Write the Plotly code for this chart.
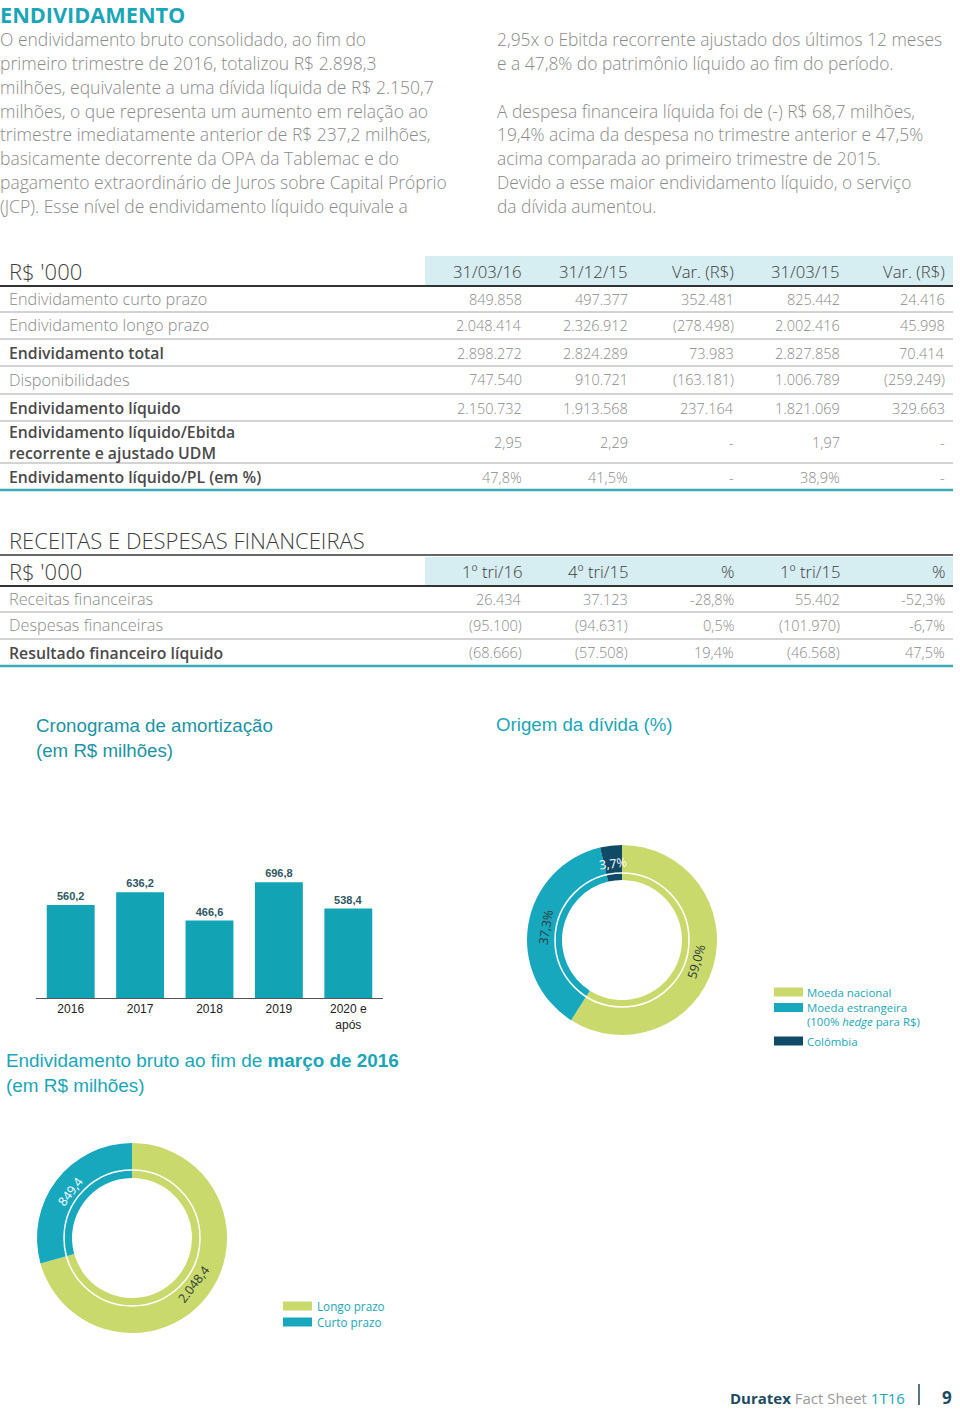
import math
import plotly.graph_objects as go

# ---------------- DATA ----------------
title_main = "ENDIVIDAMENTO"
para_left = [
    "O endividamento bruto consolidado, ao fim do",
    "primeiro trimestre de 2016, totalizou R$ 2.898,3",
    "milhões, equivalente a uma dívida líquida de R$ 2.150,7",
    "milhões, o que representa um aumento em relação ao",
    "trimestre imediatamente anterior de R$ 237,2 milhões,",
    "basicamente decorrente da OPA da Tablemac e do",
    "pagamento extraordinário de Juros sobre Capital Próprio",
    "(JCP). Esse nível de endividamento líquido equivale a",
]
para_right = [
    "2,95x o Ebitda recorrente ajustado dos últimos 12 meses",
    "e a 47,8% do patrimônio líquido ao fim do período.",
    "",
    "A despesa financeira líquida foi de (-) R$ 68,7 milhões,",
    "19,4% acima da despesa no trimestre anterior e 47,5%",
    "acima comparada ao primeiro trimestre de 2015.",
    "Devido a esse maior endividamento líquido, o serviço",
    "da dívida aumentou.",
]

debt_header = ["31/03/16", "31/12/15", "Var. (R$)", "31/03/15", "Var. (R$)"]
debt_rows = [
    "Endividamento curto prazo",
    "Endividamento longo prazo",
    "Endividamento total",
    "Disponibilidades",
    "Endividamento líquido",
    "Endividamento líquido/Ebitda<br>recorrente e ajustado UDM",
    "Endividamento líquido/PL (em %)",
]
debt_bold = [False, False, True, False, True, True, True]
debt_q1_16 = ["849.858", "2.048.414", "2.898.272", "747.540", "2.150.732", "2,95", "47,8%"]
debt_q4_15 = ["497.377", "2.326.912", "2.824.289", "910.721", "1.913.568", "2,29", "41,5%"]
debt_var_q4 = ["352.481", "(278.498)", "73.983", "(163.181)", "237.164", "-", "-"]
debt_q1_15 = ["825.442", "2.002.416", "2.827.858", "1.006.789", "1.821.069", "1,97", "38,9%"]
debt_var_q1 = ["24.416", "45.998", "70.414", "(259.249)", "329.663", "-", "-"]

fin_title = "RECEITAS E DESPESAS FINANCEIRAS"
fin_header = ["1º tri/16", "4º tri/15", "%", "1º tri/15", "%"]
fin_rows = ["Receitas financeiras", "Despesas financeiras", "Resultado financeiro líquido"]
fin_bold = [False, False, True]
fin_q1_16 = ["26.434", "(95.100)", "(68.666)"]
fin_q4_15 = ["37.123", "(94.631)", "(57.508)"]
fin_pct_q4 = ["-28,8%", "0,5%", "19,4%"]
fin_q1_15 = ["55.402", "(101.970)", "(46.568)"]
fin_pct_q1 = ["-52,3%", "-6,7%", "47,5%"]

amort_years = ["2016", "2017", "2018", "2019", "2020 e<br>após"]
amort_values = [560.2, 636.2, 466.6, 696.8, 538.4]

origin_labels = ["Moeda nacional", "Moeda estrangeira", "Colômbia"]
origin_values = [59.0, 37.3, 3.7]

term_labels = ["Longo prazo", "Curto prazo"]
term_values = [2048.4, 849.4]

# ---------------- STYLE ----------------
W, H = 960, 1411
BODY = "Open Sans"
HELV = "Liberation Sans"
TEAL = "#1aa6b7"
TEAL_T = "#1b93a3"
GREEN = "#c9d96b"
PIE_TEAL = "#18a8be"
NAVY = "#0f4a66"
GRAY = "#8a8a8a"
DARK = "#3c3c3c"


def X(p):
    return p / W


def Y(p):
    return 1 - p / H


annotations = []
shapes = []


def text(x, y, s, size, color, anchor="left", family=BODY, weight=None, angle=0):
    f = dict(size=size, color=color, family=family)
    if weight:
        f["weight"] = weight
    annotations.append(dict(x=X(x), y=Y(y), xref="paper", yref="paper", text=s,
                            showarrow=False, xanchor=anchor, yanchor="middle",
                            font=f, textangle=angle, borderpad=0,
                            align=anchor if anchor != "center" else "center"))


def hline(x0, x1, y, color, width):
    shapes.append(dict(type="line", xref="paper", yref="paper", x0=X(x0), x1=X(x1),
                       y0=Y(y), y1=Y(y), line=dict(color=color, width=width)))


def rect(x0, x1, y0, y1, color):
    shapes.append(dict(type="rect", xref="paper", yref="paper", x0=X(x0), x1=X(x1),
                       y0=Y(y1), y1=Y(y0), fillcolor=color, line=dict(width=0), layer="below"))


def br_num(v, dec=1):
    s = f"{v:,.{dec}f}"
    return s.replace(",", "X").replace(".", ",").replace("X", ".")


# ---------------- INTRO TEXT ----------------
text(-1, 14, "<b>" + title_main + "</b>", 21.7, TEAL)
line_y = [39, 63, 87, 111, 134, 158, 182, 206]
for s, yy in zip(para_left, line_y):
    text(-1, yy, s, 17.5, GRAY, weight=300)
for s, yy in zip(para_right, line_y):
    if s:
        text(496, yy, s, 17.4, GRAY, weight=300)

# ---------------- DEBT TABLE ----------------
col_x = [523, 629, 735, 841, 946]
rect(425, 953, 256, 285, "#d6edf2")
text(8, 271, "R$ '000", 22, DARK, weight=300)
for h, cx in zip(debt_header, col_x):
    text(cx, 271, h, 16.7, DARK, anchor="right", weight=300)
hline(0, 953, 286, "#333333", 2)
row_y = [299, 325, 353, 380, 408, 443, 477]
sep_y = [312, 339, 366, 394, 421, 463]
cols = [debt_q1_16, debt_q4_15, debt_var_q4, debt_q1_15, debt_var_q1]
for i, (lab, b, yy) in enumerate(zip(debt_rows, debt_bold, row_y)):
    if b:
        text(8, yy, lab, 15.8, "#4a4a4a", weight=600)
    else:
        text(8, yy, lab, 16.3, GRAY, weight=300)
    for col, cx in zip(cols, col_x):
        text(cx, yy, col[i], 14.5, GRAY, anchor="right", weight=300)
for sy in sep_y:
    hline(0, 953, sy, "#c4c4c4", 1.5)
hline(0, 953, 490, "#3aa9b8", 2.5)

# ---------------- FINANCIAL TABLE ----------------
text(8, 540, fin_title, 22, DARK, weight=300)
hline(0, 953, 555, "#333333", 1.5)
rect(425, 953, 557, 585, "#d6edf2")
text(8, 571, "R$ '000", 22, DARK, weight=300)
for h, cx in zip(fin_header, col_x):
    text(cx, 571, h, 16.7, DARK, anchor="right", weight=300)
hline(0, 953, 586, "#333333", 2)
frow_y = [599, 625, 653]
fcols = [fin_q1_16, fin_q4_15, fin_pct_q4, fin_q1_15, fin_pct_q1]
for i, (lab, b, yy) in enumerate(zip(fin_rows, fin_bold, frow_y)):
    if b:
        text(8, yy, lab, 15.8, "#4a4a4a", weight=600)
    else:
        text(8, yy, lab, 16.3, GRAY, weight=300)
    for col, cx in zip(fcols, col_x):
        text(cx, yy, col[i], 14.5, GRAY, anchor="right", weight=300)
for sy in [612, 639]:
    hline(0, 953, sy, "#c4c4c4", 1.5)
hline(0, 953, 666, "#3aa9b8", 2.5)

# ---------------- CHART TITLES ----------------
text(35, 725, "Cronograma de amortização", 18.7, TEAL_T, family=HELV)
text(35, 750, "(em R$ milhões)", 18.7, TEAL_T, family=HELV)
text(495, 724, "Origem da dívida (%)", 18.7, TEAL, family=HELV)
text(5, 1060, "Endividamento bruto ao fim de <b>março de 2016</b>", 18.9, TEAL, family=HELV)
text(5, 1085, "(em R$ milhões)", 18.9, TEAL, family=HELV)

# ---------------- FIGURE ----------------
fig = go.Figure()

fig.add_trace(go.Bar(
    x=amort_years, y=amort_values, marker=dict(color="#12a4b5", line=dict(width=0)),
    texttemplate="<b>%{y:.1f}</b>", textposition="outside",
    textfont=dict(family="Liberation Sans Narrow, Liberation Sans", size=11, color="#2f5863"),
    cliponaxis=False, showlegend=False, xaxis="x", yaxis="y", width=0.69,
))

PIE_R_IN, PIE_R_OUT = 60, 95


def donut(labels, values, colors, cx, cy, label_texts, label_colors):
    fig.add_trace(go.Pie(
        labels=labels, values=values, hole=PIE_R_IN / PIE_R_OUT, sort=False,
        direction="clockwise", rotation=0,
        marker=dict(colors=colors, line=dict(width=0)),
        textinfo="none", hoverinfo="label+value",
        domain=dict(x=[X(cx - PIE_R_OUT), X(cx + PIE_R_OUT)],
                    y=[Y(cy + PIE_R_OUT), Y(cy - PIE_R_OUT)]), showlegend=False,
    ))
    total = sum(values)
    start = 0.0
    rmid = (PIE_R_IN + PIE_R_OUT) / 2
    for v, t, c in zip(values, label_texts, label_colors):
        span = 360.0 * v / total
        mid = start + span / 2
        a = math.radians(mid)
        lx = cx + rmid * math.sin(a)
        ly = cy - rmid * math.cos(a)
        ang = mid - 180 if mid < 180 else mid - 360
        text(lx, ly, t, 12.5, c, anchor="center", angle=ang, weight=400)
        start += span


donut(origin_labels, origin_values, [GREEN, PIE_TEAL, NAVY], 622, 940,
      [br_num(v) + "%" for v in origin_values], ["#2f3a3a", "#2f3a3a", "#ffffff"])
donut(term_labels, term_values, [GREEN, PIE_TEAL], 132, 1238,
      [br_num(v) for v in term_values], ["#2f3a3a", "#ffffff"])

# inner white rings of the donuts
for cx, cy, r in [(622, 940, 67), (132, 1238, 68)]:
    shapes.append(dict(type="circle", xref="paper", yref="paper",
                       x0=X(cx - r), x1=X(cx + r), y0=Y(cy + r), y1=Y(cy - r),
                       line=dict(color="white", width=1.5)))

# custom legends
leg1 = [(origin_labels[0], GREEN, 992), (origin_labels[1], PIE_TEAL, 1007.5), (origin_labels[2], NAVY, 1041)]
for lab, c, yy in leg1:
    shapes.append(dict(type="rect", xref="paper", yref="paper", x0=X(774), x1=X(803),
                       y0=Y(yy + 4.5), y1=Y(yy - 4.5), fillcolor=c, line=dict(width=0)))
    text(806, yy, lab, 11.4, TEAL)
text(806, 1021.5, "(100% <i>hedge</i> para R$)", 11.4, TEAL)

leg2 = [(term_labels[0], GREEN, 1306), (term_labels[1], PIE_TEAL, 1322)]
for lab, c, yy in leg2:
    shapes.append(dict(type="rect", xref="paper", yref="paper", x0=X(283), x1=X(312),
                       y0=Y(yy + 4.5), y1=Y(yy - 4.5), fillcolor=c, line=dict(width=0)))
    text(316, yy, lab, 11.7, TEAL)

# footer
text(906, 1398, '<b><span style="color:#1d4b5f">Duratex</span></b> '
                '<span style="color:#9a9a9a">Fact Sheet</span> '
                '<span style="color:#1aa6b7">1T16</span>', 15, "#999999", anchor="right")
shapes.append(dict(type="line", xref="paper", yref="paper", x0=X(919), x1=X(919),
                   y0=Y(1405), y1=Y(1384), line=dict(color="#1d4b5f", width=1.5)))
text(947, 1397, "<b>9</b>", 17, "#1d4b5f", anchor="center")

fig.update_layout(
    width=W, height=H, margin=dict(l=0, r=0, t=0, b=0),
    paper_bgcolor="white", plot_bgcolor="white",
    separators=",.",
    xaxis=dict(domain=[X(36), X(383)], showline=True, linecolor="#555555", linewidth=1,
               ticks="", showgrid=False, zeroline=False, fixedrange=True,
               tickfont=dict(family=HELV, size=12, color="#222222")),
    yaxis=dict(domain=[Y(998), Y(860)], range=[0, 831], visible=False, showgrid=False,
               fixedrange=True),
    annotations=annotations, shapes=shapes, bargap=0.31,
)

fig.write_html("out.html", post_script="document.body.style.margin='0px';",
               config={"displayModeBar": False})
